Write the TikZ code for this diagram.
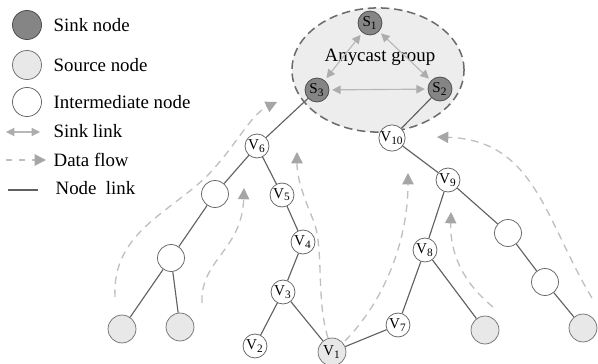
\documentclass[tikz,border=0pt]{standalone}
\usepackage{fontspec}
\setmainfont{Liberation Serif}
\usetikzlibrary{arrows.meta}

\begin{document}
\begin{tikzpicture}[x=0.53pt,y=-0.53pt,
    sinkn/.style={draw=black!70,fill=black!48,circle,minimum size=12.7pt,inner sep=0pt,font=\footnotesize},
    srcn/.style={draw=black!55,fill=black!9,circle,minimum size=14.8pt,inner sep=0pt,font=\footnotesize},
    midn/.style={draw=black!60,fill=white,circle,minimum size=14.3pt,inner sep=0pt},
    vn/.style={draw=black!60,fill=white,circle,minimum size=12.7pt,inner sep=0pt,font=\footnotesize},
    link/.style={draw=black!62,line width=0.6pt},
    slink/.style={draw=black!28,line width=0.6pt,{Triangle[length=4.5pt,width=4.5pt,color=black!32]}-{Triangle[length=4.5pt,width=4.5pt,color=black!32]}},
    flow/.style={draw=black!25,line width=0.7pt,dash pattern=on 4pt off 3pt,-{Triangle[length=6pt,width=6pt,color=black!35]}}]
    \useasboundingbox (0,0) rectangle (598,364);

    \draw[fill=black!7,draw=black!58,line width=0.8pt,dash pattern=on 4.5pt off 2.5pt] (378,70) ellipse [x radius=45.6pt,y radius=32.9pt];
    \node (any) at (380,57) {Anycast group};

    \node[sinkn] (s1) at (370,23) {S\textsubscript{1}};
    \node[sinkn] (s2) at (440,89) {S\textsubscript{2}};
    \node[sinkn] (s3) at (317,90) {S\textsubscript{3}};

    \node[vn] (v6) at (257,146) {V\textsubscript{6}};
    \node[vn] (v5) at (282,195) {V\textsubscript{5}};
    \node[vn] (v4) at (303,242) {V\textsubscript{4}};
    \node[vn] (v3) at (283,292) {V\textsubscript{3}};
    \node[vn] (v2) at (255,346) {V\textsubscript{2}};
    \node[srcn] (v1) at (332,352) {V\textsubscript{1}};
    \node[vn] (v7) at (398,325) {V\textsubscript{7}};
    \node[vn] (v8) at (425,250) {V\textsubscript{8}};
    \node[vn] (v9) at (448,180) {V\textsubscript{9}};
    \node[vn] (v10) at (392,138) {V\textsubscript{10}};

    \node[midn] (a1) at (215,194) {};
    \node[midn] (a2) at (171,258) {};
    \node[srcn] (a3) at (122,329) {};
    \node[srcn] (a4) at (180,327) {};
    \node[midn] (b1) at (508,233) {};
    \node[midn] (b2) at (545,282) {};
    \node[srcn] (b3) at (485,330) {};
    \node[srcn] (b4) at (583,328) {};

    \draw[link] (s3) -- (v6);
    \draw[link] (v6) -- (a1);
    \draw[link] (a1) -- (a2);
    \draw[link] (a2) -- (a3);
    \draw[link] (a2) -- (a4);
    \draw[link] (v6) -- (v5);
    \draw[link] (v5) -- (v4);
    \draw[link] (v4) -- (v3);
    \draw[link] (v3) -- (v2);
    \draw[link] (v3) -- (v1);
    \draw[link] (v1) -- (v7);
    \draw[link] (v7) -- (v8);
    \draw[link] (v8) -- (b3);
    \draw[link] (v8) -- (v9);
    \draw[link] (v9) -- (v10);
    \draw[link] (v10) -- (s2);
    \draw[link] (v9) -- (b1);
    \draw[link] (b1) -- (b2);
    \draw[link] (b2) -- (b4);

    \draw[slink,shorten <=1.5pt,shorten >=1.5pt] (s1) -- (s3);
    \draw[slink,shorten <=1.5pt,shorten >=1.5pt] (s1) -- (s2);
    \draw[slink,shorten <=1.5pt,shorten >=1.5pt] (s3) -- (s2);

    \coordinate (f1a) at (115,297);
    \coordinate (f1b) at (277,102);
    \coordinate (f2a) at (202,303);
    \coordinate (f2b) at (244,188);
    \coordinate (f3a) at (328,338);
    \coordinate (f3b) at (297,152);
    \coordinate (f4a) at (345,341);
    \coordinate (f4b) at (408,173);
    \coordinate (f5a) at (493,307);
    \coordinate (f5b) at (451,212);
    \coordinate (f6a) at (592,298);
    \coordinate (f6b) at (437,137);
    \draw[flow] (f1a) .. controls (112,235) and (165,215) .. (205,178) .. controls (235,148) and (250,115) .. (f1b);
    \draw[flow] (f2a) .. controls (200,260) and (242,250) .. (f2b);
    \draw[flow] (f3a) .. controls (316,300) and (324,250) .. (314,222) .. controls (305,200) and (297,180) .. (f3b);
    \draw[flow] (f4a) .. controls (385,300) and (408,240) .. (f4b);
    \draw[flow] (f5a) .. controls (460,280) and (450,250) .. (f5b);
    \draw[flow] (f6a) .. controls (545,220) and (535,140) .. (f6b);

    \node[sinkn,minimum size=15.4pt] (lsink) at (27,25) {};
    \node[srcn,minimum size=15.4pt] (lsrc) at (27,65) {};
    \node[midn,minimum size=15.4pt] (lmid) at (27,102) {};
    \node[anchor=west] (tsink) at (47,25) {Sink node};
    \node[anchor=west] (tsrc) at (47,65) {Source node};
    \node[anchor=west] (tmid) at (47,102) {Intermediate node};
    \node[anchor=west] (tslink) at (47,131) {Sink link};
    \node[anchor=west] (tflow) at (47,160) {Data flow};
    \node[anchor=west] (tlink) at (49,188) {Node\ \ link};
    \coordinate (ls1) at (6,132);
    \coordinate (ls2) at (40,132);
    \coordinate (lf1) at (6,160);
    \coordinate (lf2) at (46,160);
    \coordinate (ll1) at (8,190);
    \coordinate (ll2) at (38,190);
    \draw[slink] (ls1) -- (ls2);
    \draw[flow,dash pattern=on 3pt off 4pt] (lf1) -- (lf2);
    \draw[link] (ll1) -- (ll2);
\end{tikzpicture}
\end{document}
